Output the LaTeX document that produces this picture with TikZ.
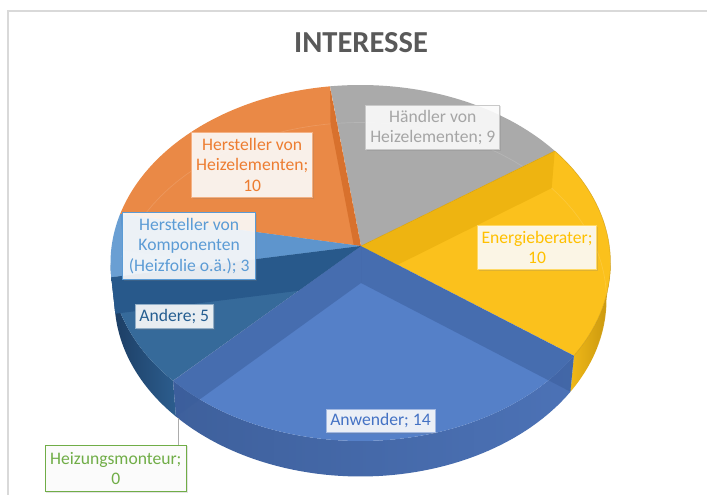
\documentclass[tikz,border=0pt]{standalone}
\usepackage{fontspec}
\setmainfont{Carlito}
\usetikzlibrary{shadows,calc}
\definecolor{frameC}{HTML}{D9D9D9}
\definecolor{titleC}{HTML}{595959}
\definecolor{cOra}{HTML}{EA8946}
\definecolor{bOra}{HTML}{D8712D}
\definecolor{cGray}{HTML}{AAAAAA}
\definecolor{cYel}{HTML}{FBC11C}
\definecolor{bYel}{HTML}{EEB411}
\definecolor{wYelA}{HTML}{F0B818}
\definecolor{wYelB}{HTML}{C8960E}
\definecolor{cAnw}{HTML}{5580C8}
\definecolor{bAnw}{HTML}{3B5E9C}
\definecolor{wAnwA}{HTML}{3E609C}
\definecolor{wAnwB}{HTML}{4C72B6}
\definecolor{cAnd}{HTML}{366A9A}
\definecolor{bAnd}{HTML}{28598B}
\definecolor{wAndA}{HTML}{1C3D63}
\definecolor{wAndB}{HTML}{2C5D8E}
\definecolor{cKomp}{HTML}{6A9FD3}
\definecolor{bKomp}{HTML}{5E95CD}
\definecolor{tOra}{HTML}{ED7D31}
\definecolor{tGray}{HTML}{A5A5A5}
\definecolor{tYel}{HTML}{FFC000}
\definecolor{tKomp}{HTML}{5B9BD5}
\definecolor{tAnd}{HTML}{255E91}
\definecolor{tAnw}{HTML}{4472C4}
\definecolor{tGreen}{HTML}{70AD47}
\pgfmathdeclarefunction{elox}{3}{\pgfmathparse{360.5+250*sin(#1+(#2-#1)*#3)}}
\pgfmathdeclarefunction{eloy}{3}{\pgfmathparse{263-178*cos(#1+(#2-#1)*#3)}}
\pgfmathdeclarefunction{elbx}{3}{\pgfmathparse{360.5+246*sin(#1+(#2-#1)*#3)}}
\pgfmathdeclarefunction{elby}{3}{\pgfmathparse{299.5-177*cos(#1+(#2-#1)*#3)}}
\tikzset{
  smp/.style={domain=0:1,samples=60},
  lbl/.style={rectangle, fill=white, fill opacity=0.88, text opacity=1, line width=0.9pt,
    inner sep=0pt, align=center, font=\fontsize{17.6}{20.2}\selectfont,
    drop shadow={opacity=0.22, shadow xshift=1.2pt, shadow yshift=-1.2pt}},
}
\begin{document}
\begin{tikzpicture}[x=1pt,y=-1pt]
\useasboundingbox (0,0) rectangle (707,495);
\fill[white] (0,0) rectangle (707,495);
\draw[frameC, line width=1.6pt] (8,495) -- (8,11) -- (707,11);
\node[font=\fontsize{30.5}{34}\selectfont\bfseries, text=titleC] (title) at (361,43) {INTERESSE};

% key points
\coordinate (C) at (361,246);
\coordinate (Cp) at (361,283);
\foreach \n/\a in {353/353, 51/51, 121/121.4, 228/228.6, 265/265.4, 286/286}{
  \coordinate (o\n) at ({360.5+250*sin(\a)},{263-178*cos(\a)});
  \coordinate (i\n) at ({360.5+246*sin(\a)},{299.5-177*cos(\a)});
}

% outer side walls
\shade[left color=wYelA, right color=wYelB] plot[smp] ({elox(90,121.4,\x)},{eloy(90,121.4,\x)}) -- plot[smp] ({elbx(121.4,90,\x)},{elby(121.4,90,\x)}) -- cycle;
\shade[left color=wAnwA, right color=wAnwB] plot[smp] ({elox(121.4,228.6,\x)},{eloy(121.4,228.6,\x)}) -- plot[smp] ({elbx(228.6,121.4,\x)},{elby(228.6,121.4,\x)}) -- cycle;
\shade[left color=wAndA, right color=wAndB] plot[smp] ({elox(228.6,265.4,\x)},{eloy(228.6,265.4,\x)}) -- plot[smp] ({elbx(265.4,228.6,\x)},{elby(265.4,228.6,\x)}) -- cycle;
\fill[bKomp!80!black] plot[smp] ({elox(265.4,270,\x)},{eloy(265.4,270,\x)}) -- plot[smp] ({elbx(270,265.4,\x)},{elby(270,265.4,\x)}) -- cycle;

% top sectors
\fill[cGray] (C) -- plot[smp] ({elox(-7,51,\x)},{eloy(-7,51,\x)}) -- cycle;
\fill[cYel] (C) -- plot[smp] ({elox(51,121.4,\x)},{eloy(51,121.4,\x)}) -- cycle;
\fill[cAnw] (C) -- plot[smp] ({elox(121.4,228.6,\x)},{eloy(121.4,228.6,\x)}) -- cycle;
\fill[cAnd] (C) -- plot[smp] ({elox(228.6,265.4,\x)},{eloy(228.6,265.4,\x)}) -- cycle;
\fill[cKomp] (C) -- plot[smp] ({elox(265.4,286,\x)},{eloy(265.4,286,\x)}) -- cycle;
\fill[cOra] (C) -- plot[smp] ({elox(286,353,\x)},{eloy(286,353,\x)}) -- cycle;

% faint inner rim (back)
\draw[white, opacity=0.13, line width=0.7pt] plot[smp] ({elbx(-76,106,\x)},{elby(-76,106,\x)});

% radial bevel walls, each kept inside its own slice
\begin{scope}
  \clip (C) -- plot[smp] ({elox(286,353,\x)},{eloy(286,353,\x)}) -- cycle;
  \fill[bOra] (C) -- (o353) -- (i353) -- (Cp) -- cycle;
\end{scope}
\begin{scope}
  \clip (C) -- plot[smp] ({elox(51,121.4,\x)},{eloy(51,121.4,\x)}) -- cycle;
  \fill[bYel] (C) -- (o51) -- (i51) -- (Cp) -- cycle;
\end{scope}
\begin{scope}
  \clip (C) -- plot[smp] ({elox(265.4,286,\x)},{eloy(265.4,286,\x)}) -- cycle;
  \fill[bKomp] (C) -- (o286) -- (i286) -- (Cp) -- cycle;
\end{scope}
\begin{scope}
  \clip (C) -- ($(C)!2!(o228)$) -- (-300,517) -- (-300,-300) -- (361,-300) -- cycle;
  \fill[bAnd] (C) -- (o265) -- (i265) -- (Cp) -- cycle;
\end{scope}
\fill[bAnw, opacity=0.55] (C) -- (o121) -- (i121) -- (Cp) -- cycle;
\fill[bAnw, opacity=0.55] (C) -- (o228) -- (i228) -- (Cp) -- cycle;

% thin slice edges
\draw[bYel!80!black, line width=0.4pt, opacity=0.6] (C) -- (o51);
\draw[wYelB, line width=0.5pt, opacity=0.7] plot[smp] ({elox(51,121.4,\x)},{eloy(51,121.4,\x)});

% labels
\node[lbl, draw=tOra!60, text=tOra, minimum width=121pt, minimum height=65pt] (lHZ) at (252.2,164.8) {Hersteller von\\Heizelementen;\\10};
\node[lbl, draw=tGray!60, text=tGray, minimum width=134pt, minimum height=44.3pt] (lHA) at (432.8,127.2) {Händler von\\Heizelementen; 9};
\node[lbl, draw=tYel!60, text=tYel, minimum width=119.4pt, minimum height=43.6pt] (lEN) at (537,247.5) {Energieberater;\\10};
\node[lbl, draw=tKomp, text=tKomp, minimum width=133pt, minimum height=66.6pt] (lKO) at (189.2,246) {Hersteller von\\Komponenten\\(Heizfolie o.ä.); 3};
\node[lbl, draw=tAnd!50, text=tAnd, minimum width=78pt, minimum height=24.3pt] (lAN) at (174.3,316.2) {Andere; 5};
\node[lbl, draw=tAnw!50, text=tAnw, minimum width=109pt, minimum height=23.4pt] (lAW) at (380.5,421) {Anwender; 14};
\node[lbl, draw=tGreen, text=tGreen, minimum width=141.7pt, minimum height=46.7pt] (lHM) at (115.8,468.3) {Heizungsmonteur;\\0};
\coordinate (hmpt) at (178.7,418);
\draw[gray!65, line width=0.8pt] (hmpt) -- (hmpt |- lHM.north);
\end{tikzpicture}
\end{document}
